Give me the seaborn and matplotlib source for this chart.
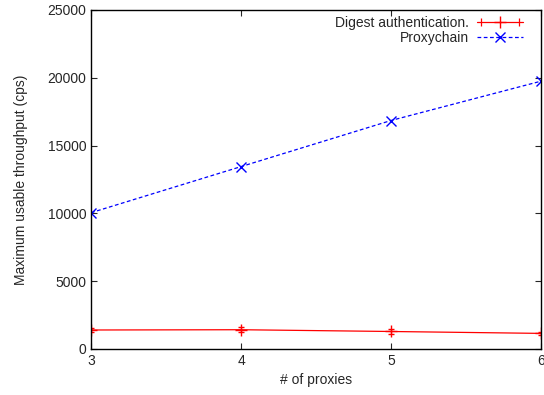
import seaborn as sns
import matplotlib.pyplot as plt
import pandas as pd
from matplotlib.lines import Line2D
from matplotlib.legend_handler import HandlerLine2D

# data
proxies = [3, 4, 5, 6]
digest = [1400, 1420, 1290, 1150]
digest_err = [180, 200, 170, 120]
proxychain = [10050, 13450, 16850, 19750]

df_digest = pd.DataFrame({'proxies': proxies, 'value': digest})
df_proxy = pd.DataFrame({'proxies': proxies, 'value': proxychain})

sns.set_style("ticks")
plt.rcParams['font.family'] = ['Liberation Sans', 'DejaVu Sans']

fig = plt.figure(figsize=(5.44, 3.95), dpi=100)
ax = fig.add_axes([0.1673, 0.1165, 0.8272, 0.8582])

sns.lineplot(data=df_digest, x='proxies', y='value', color='#ff0000',
             marker='+', markersize=8, markeredgewidth=1, markeredgecolor='#ff0000',
             linewidth=0.9, ax=ax)
sns.lineplot(data=df_proxy, x='proxies', y='value', color='#0000ff',
             marker='x', markersize=7, markeredgewidth=1, markeredgecolor='#0000ff',
             linewidth=0.9, ax=ax)
red_line, blue_line = ax.lines[0], ax.lines[1]
blue_line.set_dashes((3, 2))

# error bars on the digest series
ax.errorbar(proxies, digest, yerr=digest_err, fmt='none', ecolor='#ff0000',
            elinewidth=0.9, capsize=2)

ax.set_xlim(3, 6)
ax.set_ylim(0, 25000)
ax.set_xticks(proxies)
ax.set_yticks(range(0, 25001, 5000))
ax.set_xlabel('# of proxies', fontsize=10)
ax.set_ylabel('Maximum usable throughput (cps)', fontsize=10, labelpad=14)
ax.tick_params(direction='in', top=True, right=True, labelsize=10, length=4)
for s in ax.spines.values():
    s.set_linewidth(1)
    s.set_color('black')

# gnuplot-like key: error-bar caps at both ends of the red sample
caps = Line2D([], [], color='#ff0000', marker='|', markersize=6,
              linestyle='none', markeredgewidth=0.9)
ax.legend([(red_line, caps), blue_line],
          ['Digest authentication.', 'Proxychain'],
          handler_map={caps: HandlerLine2D(numpoints=2)},
          loc='upper right', bbox_to_anchor=(0.972, 1.0), frameon=False,
          markerfirst=False, fontsize=10, handlelength=3.3, borderaxespad=0,
          labelspacing=0.1, handletextpad=0.6)

fig.savefig('out.png', dpi=100)
